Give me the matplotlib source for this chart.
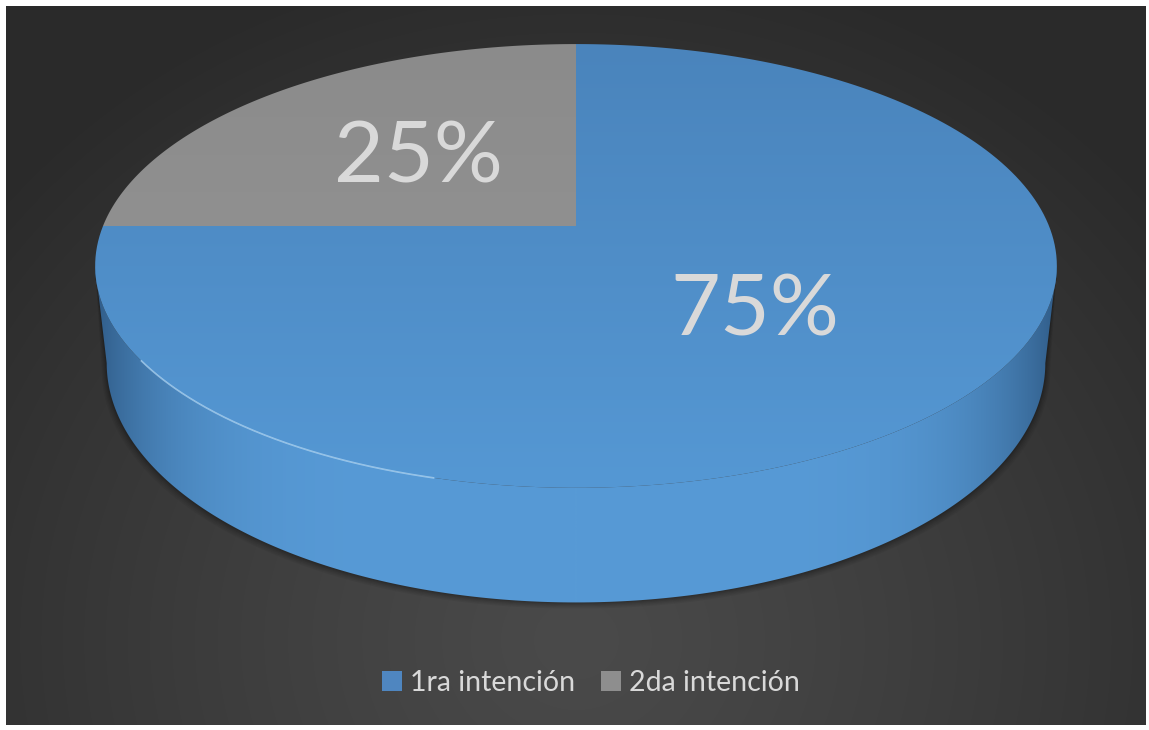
import numpy as np
import matplotlib.pyplot as plt
from matplotlib.patches import Polygon, Patch

plt.rcParams['font.family'] = ['Lato', 'DejaVu Sans']

labels = ['1ra intención', '2da intención']
values = [75, 25]
top_colors = [('#4a84bc', '#5598d4'), ('#8b8b8b', '#979797')]
legend_colors = ['#4f86c0', '#8e8e8e']
text_color = '#d9d9d9'

W, H = 1149, 730
fig = plt.figure(figsize=(W / 100, H / 100), dpi=100)
fig.patch.set_facecolor('white')
ax = fig.add_axes([0, 0, 1, 1])
ax.set_xlim(0, W)
ax.set_ylim(H, 0)
ax.axis('off')

# dark background with a soft radial glow
x0, x1, y0, y1 = 6, 1146, 6, 725
yy, xx = np.mgrid[y0:y1, x0:x1]
d = np.sqrt(((xx - 576) / 760.0) ** 2 + ((yy - 640) / 700.0) ** 2)
g = (0x4a - (0x4a - 0x2a) * np.clip(d, 0, 1) ** 1.2) / 255.0
ax.imshow(np.dstack([g, g, g]), extent=(x0, x1, y1, y0), zorder=0, interpolation='bilinear')

# perspective disc
cx, cy, rx, k, A, depth, shrink = 576, 226, 473, 0.18, -174.0, 94.0, 0.976


def proj(u, v):
    s = 1 + k * v
    return cx + rx * u / s, (A * v + cy) / s


def rim(t):
    u, v = np.cos(t), np.sin(t)
    x, y = proj(u, v)
    xb = cx + (x - cx) * shrink
    return x, y, xb, y + depth / (1 + k * v)


# side wall (front half)
tl, tr = np.pi + np.arcsin(k), 2 * np.pi - np.arcsin(k)
ts = np.linspace(tl, tr, 300)
sx, sy_top, sxb, sy_bot = rim(ts)
side_pts = np.vstack([np.column_stack([sx, sy_top]), np.column_stack([sxb[::-1], sy_bot[::-1]])])

# shadow under the pie
for i, a in enumerate([0.05, 0.05, 0.06, 0.08, 0.10]):
    off = 10 - 2 * i
    shp = np.vstack([np.column_stack([sx, sy_top + 2]),
                     np.column_stack([sxb[::-1] + np.sign(sxb[::-1] - cx) * off * 0.5, sy_bot[::-1] + off * 0.6])])
    ax.add_patch(Polygon(shp, closed=True, facecolor='black', edgecolor='none', alpha=a, zorder=1))

side = Polygon(side_pts, closed=True, facecolor='none', edgecolor='none', zorder=2)
ax.add_patch(side)
f = np.clip(np.abs(np.linspace(-1, 1, 400)), 0, 1) ** 6
c_mid = np.array([0x57, 0x9a, 0xd6]) / 255.0
c_edge = np.array([0x30, 0x5c, 0x88]) / 255.0
row = c_mid[None, :] * (1 - f[:, None]) + c_edge[None, :] * f[:, None]
im = ax.imshow(row[None, :, :].repeat(2, axis=0), extent=(cx - 482, cx + 482, 610, 230),
               zorder=2, interpolation='bilinear', aspect='auto')
im.set_clip_path(side)

# top face wedges, clockwise from 12 o'clock
start = 90.0
total = float(sum(values))
mids = []
for val, (ca, cb) in zip(values, top_colors):
    sweep = 360.0 * val / total
    t = np.radians(np.linspace(start, start - sweep, 200))
    px, py = proj(np.cos(t), np.sin(t))
    pts = np.vstack([[proj(0, 0)], np.column_stack([px, py])])
    wedge = Polygon(pts, closed=True, facecolor='none', edgecolor='none', zorder=3)
    ax.add_patch(wedge)
    ca = np.array(plt.matplotlib.colors.to_rgb(ca))
    cb = np.array(plt.matplotlib.colors.to_rgb(cb))
    tt = np.linspace(0, 1, 200)[:, None]
    col = ca * (1 - tt) + cb * tt
    gim = ax.imshow(col[:, None, :].repeat(2, axis=1), extent=(90, 1062, 490, 42),
                    zorder=3, interpolation='bilinear', aspect='auto')
    gim.set_clip_path(wedge)
    mids.append(np.radians(start - sweep / 2))
    start -= sweep

# light rim highlight along the front-left edge
th = np.linspace(np.pi + 0.6, 1.42 * np.pi, 200)
hx, hy, _, _ = rim(th)
ax.plot(hx, hy, color='#b5dcfa', lw=1.2, alpha=0.7, zorder=4)

# percentage labels
for val, m in zip(values, mids):
    lx, ly = proj(0.5 * np.cos(m), 0.5 * np.sin(m))
    ax.text(lx, ly + 4, f'{val / total * 100:.0f}%', color=text_color, fontsize=62,
            ha='center', va='center', zorder=5)

handles = [Patch(facecolor=c, edgecolor='none') for c in legend_colors]
leg = ax.legend(handles, labels, loc='center', bbox_to_anchor=(591 / W, 1 - 683 / H), ncol=2,
                frameon=False, fontsize=20.5, handlelength=0.7, handleheight=0.7,
                handletextpad=0.3, columnspacing=0.9, labelcolor=text_color)

fig.savefig('out.png', dpi=100, facecolor='white')
